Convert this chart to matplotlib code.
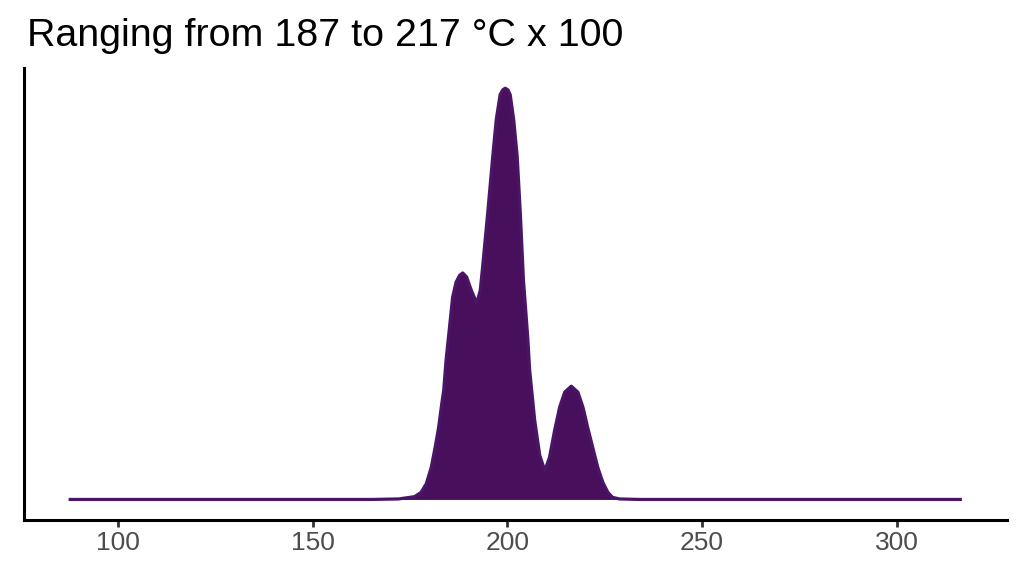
import numpy as np
import matplotlib
matplotlib.use("Agg")
import matplotlib.pyplot as plt

plt.rcParams['font.family'] = ['Liberation Sans', 'DejaVu Sans']

# density curve (temperature, relative density)
temp = [87.2, 165.0, 172.0, 176.1, 177.8, 179.1, 180.4, 181.4, 182.3, 183.1,
        183.6, 184.2, 185.1, 185.9, 186.8, 187.7, 188.5, 189.5, 190.7, 192.1,
        193.0, 193.6, 194.9, 196.2, 197.1, 198.1, 198.8, 199.4, 200.1, 200.7,
        201.6, 202.5, 203.3, 204.1, 205.2, 205.7, 206.4, 207.0, 208.3, 209.6,
        210.8, 212.1, 213.4, 214.7, 216.4, 218.1, 219.4, 220.6, 221.9, 223.2,
        224.5, 225.8, 227.0, 228.8, 234.0, 316.8]
dens = [0.0, 0.0, 0.5, 2.8, 7.1, 15.5, 32.0, 52.0, 72.0, 95.5,
        108.8, 138.8, 172.1, 202.1, 217.1, 223.8, 226.1, 222.1, 208.8, 196.1,
        208.8, 232.0, 285.5, 342.0, 379.0, 404.0, 409.0, 410.5, 409.0, 404.0,
        379.0, 342.0, 285.5, 219.0, 162.0, 129.0, 102.0, 78.8, 43.8, 28.8,
        42.1, 68.8, 92.1, 107.1, 113.1, 107.1, 92.1, 72.1, 52.1, 32.1,
        17.1, 7.1, 2.1, 0.5, 0.0, 0.0]
temp = np.array(temp)
dens = np.array(dens) / 10000.0

title = "Ranging from 187 to 217 \u00b0C x 100"
xticks = [100, 150, 200, 250, 300]

fig = plt.figure(figsize=(10.24, 5.76), dpi=100)
ax = fig.add_axes([0.0234, 0.0972, 0.9596, 0.7853])

ax.fill_between(temp, 0, dens, color='#480F5D', linewidth=0)
ax.plot(temp, dens, color='#4A1566', linewidth=2.3, solid_capstyle='butt',
        solid_joinstyle='round')

span = temp.max() - temp.min()
ax.set_xlim(temp.min() - 0.05 * span, temp.max() + 0.05 * span)
ax.set_ylim(-0.05 * dens.max(), 1.05 * dens.max())

ax.set_xticks(xticks)
ax.set_yticks([])
ax.tick_params(axis='x', length=5, width=2.0, color='#333333',
               labelsize=19, labelcolor='#4D4D4D', pad=3)
for s in ['top', 'right']:
    ax.spines[s].set_visible(False)
for s in ['left', 'bottom']:
    ax.spines[s].set_linewidth(2.2)
    ax.spines[s].set_color('black')
    ax.spines[s].set_capstyle('projecting')

fig.text(0.0264, 1 - 46 / 576, title, fontsize=28.4, color='black',
         ha='left', va='baseline')

fig.savefig('out.png', dpi=100)
